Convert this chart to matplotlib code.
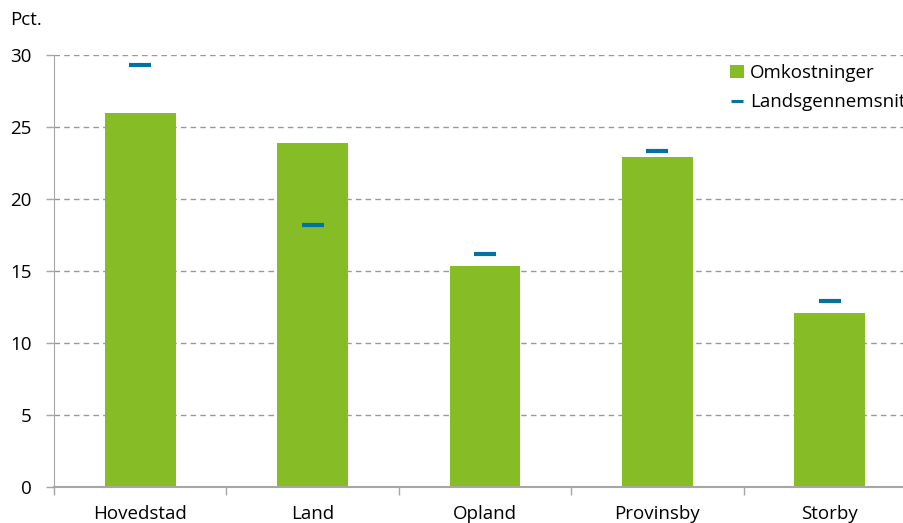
import numpy as np
import matplotlib.pyplot as plt
from matplotlib.lines import Line2D

plt.rcParams['font.family'] = ['Open Sans', 'DejaVu Sans']

categories = ['Hovedstad', 'Land', 'Opland', 'Provinsby', 'Storby']
omkostninger = [26.0, 23.9, 15.35, 22.9, 12.1]
landsgennemsnit = [29.3, 18.2, 16.2, 23.3, 12.9]

green = '#86bc25'
blue = '#0073a3'
grey = '#a6a6a6'
fs = 13.5

fig = plt.figure(figsize=(9.04, 5.23), dpi=100)
ax = fig.add_axes([54 / 904, 1 - 487 / 523, 862 / 904, 432 / 523])

x = np.arange(len(categories))
bars = ax.bar(x, omkostninger, width=0.41, color=green, label='Omkostninger', zorder=2)
ax.plot(x, landsgennemsnit, linestyle='none', marker='_', markersize=16,
        markeredgewidth=3, color=blue, label='Landsgennemsnit', zorder=3)

ax.set_xlim(-0.5, 4.5)
ax.set_ylim(0, 30)
ax.set_yticks(range(0, 31, 5))
ax.set_xticks(x)
ax.set_xticklabels(categories, fontsize=fs)
ax.set_xticks(np.arange(-0.5, 5, 1), minor=True)
ax.tick_params(axis='x', which='major', length=0, pad=13)
ax.tick_params(axis='x', which='minor', length=6, color=grey, width=1)
ax.tick_params(axis='y', length=6, color=grey, width=1, labelsize=fs, pad=10)

ax.grid(axis='y', linestyle=(0, (4, 3)), color='#999999', linewidth=1, zorder=0)
for s in ['top', 'right']:
    ax.spines[s].set_visible(False)
ax.spines['left'].set_color(grey)
ax.spines['bottom'].set_color(grey)
ax.spines['bottom'].set_linewidth(1.5)

fig.text(10 / 904, 1 - 20 / 523, 'Pct.', fontsize=fs, va='center', ha='left')

avg_handle = Line2D([], [], linestyle='none', marker='_', markersize=8,
                    markeredgewidth=2.2, color=blue)
ax.legend([bars, avg_handle], ['Omkostninger', 'Landsgennemsnit'], loc='upper left',
          bbox_to_anchor=((730 - 54) / 862, (487 - 64) / 432),
          bbox_transform=ax.transAxes, frameon=False, fontsize=fs,
          handlelength=0.75, handleheight=0.75, handletextpad=0.3,
          borderaxespad=0, borderpad=0, labelspacing=0.6)

fig.savefig('out.png', dpi=100)
